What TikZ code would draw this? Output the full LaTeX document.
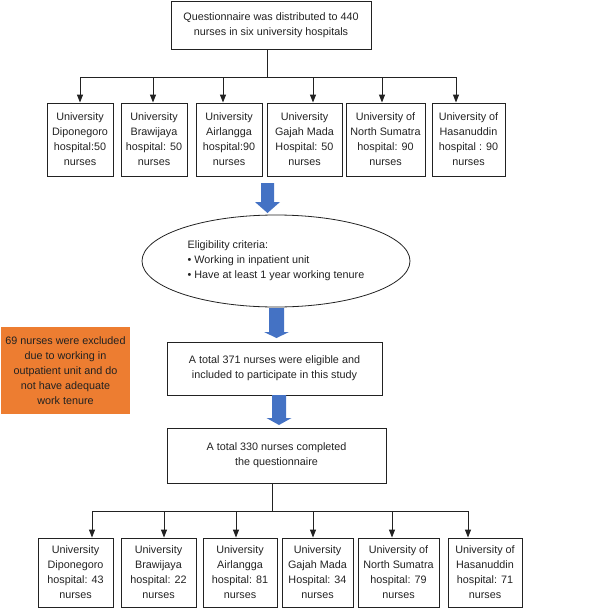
\documentclass[tikz,border=0pt]{standalone}
\usepackage{fontspec}
\setmainfont{Liberation Sans}
\usetikzlibrary{arrows.meta,shapes.geometric}
\definecolor{flowblue}{HTML}{4472C4}
\definecolor{flowor}{HTML}{ED7D31}
\definecolor{ink}{HTML}{222222}
\tikzset{
  txt/.style={font=\fontsize{10.8}{15}\selectfont, text=ink, align=center, inner sep=0pt},
  box/.style={txt, draw=ink, line width=0.9pt, rectangle},
  arr/.style={draw=ink, line width=0.9pt, -{Triangle[length=8pt,width=6pt]}},
  ln/.style={draw=ink, line width=0.9pt},
  bluearr/.style={fill=flowblue, draw=none},
}
\newcommand\bluearrow[6]{% cx, ytop, yhead, ytip, halfshaft, halfhead
  \fill[bluearr] (#1-#5,#2) -- (#1+#5,#2) -- (#1+#5,#3) -- (#1+#6,#3) -- (#1,#4) -- (#1-#6,#3) -- (#1-#5,#3) -- cycle;}
\begin{document}
\begin{tikzpicture}[x=1pt,y=-1pt]
\useasboundingbox (0,0) rectangle (598,608);
\node[box, minimum width=200pt, minimum height=48pt] (top) at (271,25)
  {Questionnaire was distributed to 440\\nurses in six university hospitals};
% row 1
\node[box, minimum width=66pt, minimum height=73pt] (a1) at (80,139.5) {University\\Diponegoro\\hospital:50\\nurses};
\node[box, minimum width=66pt, minimum height=73pt] (a2) at (154,139.5) {University\\Brawijaya\\hospital: 50\\nurses};
\node[box, minimum width=66pt, minimum height=73pt] (a3) at (229,139.5) {University\\Airlangga\\hospital:90\\nurses};
\node[box, minimum width=75pt, minimum height=73pt] (a4) at (304.5,139.5) {University\\Gajah Mada\\Hospital: 50\\nurses};
\node[box, minimum width=79pt, minimum height=73pt] (a5) at (385.5,139.5) {University of\\North Sumatra\\hospital: 90\\nurses};
\node[box, minimum width=73pt, minimum height=73pt] (a6) at (468.5,139.5) {University of\\Hasanuddin\\hospital : 90\\nurses};
\draw[ln] ([xshift=-4pt]top.south) -- ++(0,28) coordinate (j1);
\draw[ln] (a1.north |- j1) -- ([xshift=-12.5pt]a6.north |- j1);
\foreach \n/\dx in {a1/0,a2/-1,a3/-6,a4/8.5,a5/-3.5,a6/-12.5}
  \draw[arr] ([xshift=\dx pt]\n.north |- j1) -- ([xshift=\dx pt]\n.north);
% blue arrow 1
\bluearrow{267.5}{183}{202}{213}{6.5}{12.5}
% ellipse
\node[ellipse, draw=ink, line width=0.8pt, minimum width=268pt, minimum height=92pt, inner sep=0pt] (elig) at (276,261) {};
\node[txt, align=left] (eligtxt) at (elig.center) {Eligibility criteria:\\\textbullet\ Working in inpatient unit\\\textbullet\ Have at least 1 year working tenure};
% blue arrow 2
\bluearrow{276.5}{308}{332}{338}{7.5}{12.5}
\node[box, minimum width=215pt, minimum height=53pt] (incl) at (274.5,368.5)
  {A total 371 nurses were eligible and\\included to participate in this study};
\node[txt, fill=flowor, minimum width=129pt, minimum height=87pt] (excl) at (65.5,370.5)
  {69 nurses were excluded\\due to working in\\outpatient unit and do\\not have adequate\\work tenure};
% blue arrow 3
\bluearrow{279}{395}{418}{425}{7}{12.5}
\node[box, minimum width=219pt, minimum height=55pt] (comp) at (276.5,455.5)
  {A total 330 nurses completed\\the questionnaire};
% row 2
\node[box, minimum width=75pt, minimum height=69pt] (b1) at (75.5,572.5) {University\\Diponegoro\\hospital: 43\\nurses};
\node[box, minimum width=75pt, minimum height=69pt] (b2) at (158.5,572.5) {University\\Brawijaya\\hospital: 22\\nurses};
\node[box, minimum width=74pt, minimum height=69pt] (b3) at (240,572.5) {University\\Airlangga\\hospital: 81\\nurses};
\node[box, minimum width=71pt, minimum height=69pt] (b4) at (317.5,572.5) {University\\Gajah Mada\\Hospital: 34\\nurses};
\node[box, minimum width=81pt, minimum height=69pt] (b5) at (398.5,572.5) {University of\\North Sumatra\\hospital: 79\\nurses};
\node[box, minimum width=74pt, minimum height=69pt] (b6) at (485,572.5) {University of\\Hasanuddin\\hospital: 71\\nurses};
\draw[ln] ([xshift=-4.5pt]comp.south) -- ++(0,28) coordinate (j2);
\draw[ln] ([xshift=16.5pt]b1.north |- j2) -- ([xshift=-17pt]b6.north |- j2);
\foreach \n/\dx in {b1/16.5,b2/5.5,b3/-4,b4/-4.5,b5/-6.5,b6/-17}
  \draw[arr] ([xshift=\dx pt]\n.north |- j2) -- ([xshift=\dx pt]\n.north);
\end{tikzpicture}
\end{document}
